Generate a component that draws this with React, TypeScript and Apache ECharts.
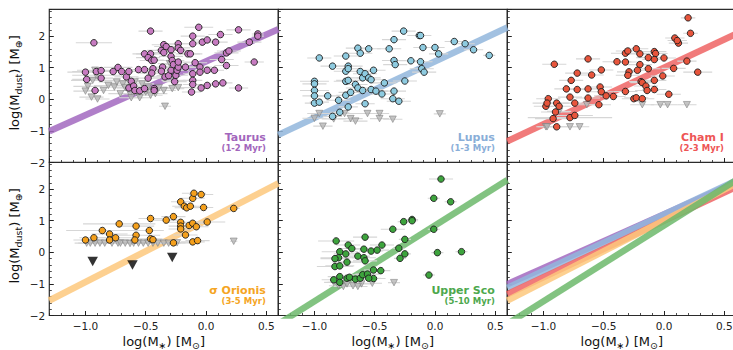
import React, { useEffect, useRef } from 'react';
import * as echarts from 'echarts';

const X_MIN = -1.3;
const X_MAX = 0.6;
const Y_MIN = -2;
const Y_MAX = 2.85;

const regionNames = ['Taurus', 'Lupus', 'Cham I', 'σ Orionis', 'Upper Sco'];
const regionAges = ['(1-2 Myr)', '(1-3 Myr)', '(2-3 Myr)', '(3-5 Myr)', '(5-10 Myr)'];
const fitSlopes = [1.7, 1.79, 1.79, 1.95, 2.4];
const fitIntercepts = [1.2, 1.2, 1.0, 1.01, 0.85];

// [log M*, log Mdust, x error]
const taurusDetections = [
  [-0.93, 1.79, 0.15], [-0.46, 2.16, 0.1], [-1.0, 0.86, 0.15], [-0.99, 0.63, 0.12], [-0.91, 0.88, 0.2],
  [-0.87, 0.91, 0.12], [-0.87, 0.67, 0.1], [-0.92, 0.28, 0.1], [-0.77, 0.88, 0.1], [-0.73, 1.01, 0.12],
  [-0.7, 0.88, 0.1], [-0.66, 0.71, 0.1], [-0.64, 0.88, 0.12], [-0.62, 0.57, 0.1], [-0.64, 0.36, 0.1],
  [-0.6, 0.42, 0.08], [-0.59, 0.28, 0.1], [-0.55, 0.27, 0.1], [-0.56, 0.94, 0.1], [-0.51, 0.94, 0.12],
  [-0.51, 0.34, 0.1], [-0.51, 1.44, 0.1], [-0.46, 1.44, 0.12], [-0.48, 1.32, 0.1], [-0.45, 1.23, 0.1],
  [-0.43, 1.24, 0.08], [-0.44, 0.97, 0.12], [-0.45, 0.83, 0.1], [-0.48, 0.67, 0.1], [-0.43, 0.34, 0.1],
  [-0.43, 0.28, 0.08], [-0.37, 1.55, 0.12], [-0.35, 1.73, 0.1], [-0.33, 1.67, 0.1], [-0.35, 1.48, 0.1],
  [-0.36, 1.02, 0.1], [-0.37, 0.89, 0.12], [-0.34, 0.71, 0.1], [-0.31, 0.75, 0.1], [-0.29, 0.92, 0.1],
  [-0.29, 1.57, 0.12], [-0.29, 1.36, 0.1], [-0.28, 1.23, 0.1], [-0.27, 1.1, 0.1], [-0.26, 0.56, 0.1],
  [-0.25, 0.76, 0.1], [-0.24, 0.92, 0.1], [-0.23, 1.02, 0.1], [-0.23, 1.76, 0.1], [-0.23, 1.63, 0.1],
  [-0.21, 1.55, 0.1], [-0.23, 1.18, 0.1], [-0.17, 1.02, 0.1], [-0.15, 1.44, 0.1], [-0.13, 1.44, 0.1],
  [-0.11, 1.76, 0.1], [-0.11, 2.0, 0.1], [-0.11, 0.81, 0.08], [-0.11, 0.6, 0.08], [-0.11, 0.47, 0.08],
  [-0.12, 0.23, 0.08], [-0.09, 1.16, 0.1], [-0.06, 2.28, 0.12], [-0.05, 1.02, 0.1], [-0.05, 0.86, 0.1],
  [-0.03, 1.81, 0.1], [0.01, 1.88, 0.1], [0.01, 0.92, 0.1], [-0.04, 0.36, 0.08], [0.01, 0.44, 0.08],
  [0.07, 0.92, 0.08], [0.08, 1.81, 0.1], [0.08, 0.49, 0.08], [0.14, 0.52, 0.08], [0.12, 2.05, 0.1],
  [0.13, 1.26, 0.1], [0.17, 1.07, 0.1], [0.17, 1.47, 0.1], [0.19, 1.53, 0.1], [0.27, 2.2, 0.1],
  [0.27, 0.36, 0.08], [0.36, 1.81, 0.1], [0.4, 1.18, 0.08], [0.43, 2.07, 0.05], [0.43, 2.0, 0.05],
];
const taurusLimits = [
  [-0.92, 0.92, 0.15], [-0.91, 0.76, 0.2], [-0.94, 0.6, 0.18], [-0.98, 0.41, 0.12], [-1.0, 0.26, 0.1],
  [-0.95, 0.07, 0.1], [-0.9, 0.01, 0.1], [-0.85, 0.28, 0.1], [-0.81, 0.44, 0.12], [-0.76, 0.39, 0.1],
  [-0.74, 0.55, 0.15], [-0.71, 0.18, 0.1], [-0.69, 0.49, 0.1], [-0.67, 0.37, 0.1], [-0.63, 0.18, 0.1],
  [-0.62, 0.05, 0.1], [-0.59, 0.55, 0.12], [-0.56, 0.18, 0.1], [-0.55, 0.05, 0.1], [-0.53, 0.49, 0.1],
  [-0.5, 0.23, 0.1], [-0.48, 0.39, 0.1], [-0.46, 0.13, 0.1], [-0.42, 0.18, 0.1], [-0.39, 0.37, 0.1],
  [-0.35, 0.28, 0.1], [-0.34, -0.22, 0.05], [-0.3, 1.13, 0.1], [-0.28, 0.34, 0.1], [-0.27, 0.6, 0.1],
  [-0.23, 0.37, 0.1],
];

const lupusDetections = [
  [-0.96, 1.31, 0.1], [-1.0, 0.57, 0.12], [-1.0, 0.49, 0.1], [-1.0, 0.28, 0.12], [-1.0, 0.11, 0.1],
  [-1.0, -0.12, 0.08], [-0.96, -0.09, 0.08], [-0.89, 0.11, 0.1], [-0.85, 1.05, 0.1], [-0.8, -0.03, 0.1],
  [-0.85, -0.54, 0.08], [-0.79, -0.41, 0.08], [-0.74, 1.37, 0.1], [-0.74, 0.89, 0.1], [-0.72, 1.05, 0.12],
  [-0.72, 0.97, 0.1], [-0.74, 0.57, 0.1], [-0.72, 0.6, 0.1], [-0.74, 0.13, 0.08], [-0.72, -0.24, 0.08],
  [-0.7, 0.22, 0.1], [-0.66, 0.47, 0.1], [-0.64, 1.62, 0.1], [-0.62, 1.46, 0.1], [-0.62, 0.88, 0.1],
  [-0.64, 0.36, 0.1], [-0.6, 0.68, 0.1], [-0.58, 0.81, 0.1], [-0.6, 0.28, 0.1], [-0.58, -0.14, 0.08],
  [-0.55, 1.6, 0.1], [-0.55, 0.68, 0.1], [-0.53, 0.62, 0.1], [-0.51, 0.92, 0.1], [-0.53, 0.31, 0.1],
  [-0.49, 0.26, 0.1], [-0.44, 0.17, 0.1], [-0.42, 0.52, 0.1], [-0.38, 1.6, 0.1], [-0.34, 1.89, 0.1],
  [-0.34, 1.23, 0.1], [-0.33, 1.1, 0.1], [-0.34, 0.26, 0.1], [-0.35, 0.02, 0.1], [-0.3, -0.06, 0.1],
  [-0.26, 2.16, 0.1], [-0.25, 0.58, 0.1], [-0.2, 1.22, 0.1], [-0.13, 2.02, 0.1], [-0.12, 2.02, 0.08],
  [-0.12, 1.19, 0.1], [-0.11, 0.97, 0.1], [-0.09, 0.86, 0.1], [-0.1, 1.64, 0.08], [0.0, 1.64, 0.08],
  [0.03, 1.44, 0.08], [0.16, 1.83, 0.08], [0.25, 1.76, 0.08], [0.32, 1.57, 0.08], [0.45, 1.39, 0.05],
];
const lupusLimits = [
  [-1.0, -0.6, 0.1], [-0.96, -0.45, 0.1], [-0.93, -0.85, 0.08], [-0.84, -0.62, 0.1], [-0.75, -0.45, 0.1],
  [-0.7, -0.61, 0.1], [-0.66, -0.69, 0.1], [-0.56, -0.45, 0.1], [-0.46, -0.45, 0.08], [-0.46, -0.61, 0.08],
  [-0.35, -0.63, 0.08], [0.04, -0.46, 0.05],
];

const chamDetections = [
  [-0.91, 1.11, 0.1], [-0.96, 0.02, 0.1], [-0.98, -0.22, 0.1], [-0.97, -0.12, 0.12], [-0.89, -0.12, 0.1],
  [-0.87, -0.22, 0.1], [-0.9, -0.4, 0.12], [-0.92, -0.61, 0.15], [-0.89, -0.87, 0.1], [-0.78, -0.58, 0.35],
  [-0.74, -0.51, 0.15], [-0.78, 0.07, 0.1], [-0.81, 0.33, 0.1], [-0.77, 0.6, 0.1], [-0.74, -0.12, 0.1],
  [-0.72, 0.83, 0.1], [-0.72, 0.31, 0.1], [-0.63, 1.28, 0.1], [-0.63, 0.33, 0.1], [-0.63, 0.04, 0.1],
  [-0.6, 0.77, 0.1], [-0.54, -0.17, 0.1], [-0.53, 0.39, 0.1], [-0.52, 0.93, 0.1], [-0.52, 0.24, 0.1],
  [-0.48, 0.11, 0.1], [-0.42, 0.09, 0.1], [-0.39, 1.19, 0.12], [-0.32, 1.18, 0.12], [-0.32, 1.46, 0.12],
  [-0.3, 1.53, 0.1], [-0.32, 0.25, 0.1], [-0.29, 0.87, 0.1], [-0.3, 0.76, 0.1], [-0.25, 0.02, 0.1],
  [-0.23, 0.05, 0.1], [-0.2, 1.44, 0.1], [-0.23, 1.6, 0.1], [-0.2, 1.1, 0.1], [-0.22, 0.92, 0.1],
  [-0.19, 0.56, 0.1], [-0.18, 0.53, 0.1], [-0.18, 0.02, 0.1], [-0.15, 0.42, 0.1], [-0.14, 0.28, 0.1],
  [-0.13, 0.97, 0.1], [-0.13, 1.32, 0.1], [-0.08, 0.31, 0.1], [-0.08, 0.6, 0.1], [-0.08, 1.51, 0.1],
  [-0.07, 1.45, 0.1], [-0.08, 1.26, 0.1], [-0.01, 0.74, 0.1], [0.0, 1.31, 0.1], [0.04, 0.16, 0.1],
  [0.08, 0.98, 0.1], [0.09, 1.94, 0.08], [0.12, 1.78, 0.08], [0.11, 1.86, 0.08], [0.19, 1.21, 0.08],
  [0.2, 2.58, 0.06], [0.22, 2.09, 0.06], [0.28, 0.86, 0.12],
];
const chamLimits = [
  [-0.87, -0.38, 0.1], [-0.98, -0.87, 0.08], [-0.97, -0.87, 0.08], [-0.78, -0.87, 0.08], [-0.7, -0.87, 0.08],
  [-0.64, -0.17, 0.1], [-0.18, -0.17, 0.1], [-0.03, -0.17, 0.08], [0.03, -0.17, 0.08], [0.19, -0.17, 0.08],
];

const sigmaOriDetections = [
  [-1.0, 0.39, 0.1], [-0.93, 0.46, 0.12], [-0.86, 0.69, 0.3], [-0.8, 0.58, 0.15], [-0.8, 0.39, 0.15],
  [-0.75, 0.46, 0.15], [-0.72, 0.9, 0.3], [-0.58, 0.83, 0.15], [-0.58, 0.54, 0.2], [-0.59, 0.39, 0.15],
  [-0.47, 0.69, 0.12], [-0.46, 1.07, 0.1], [-0.46, 0.43, 0.1], [-0.44, 0.4, 0.1], [-0.33, 1.02, 0.1],
  [-0.27, 1.13, 0.1], [-0.27, 0.3, 0.1], [-0.21, 1.6, 0.08], [-0.21, 0.95, 0.1], [-0.21, 0.83, 0.1],
  [-0.21, 0.74, 0.1], [-0.17, 0.55, 0.1], [-0.18, 1.46, 0.1], [-0.16, 1.41, 0.1], [-0.13, 1.46, 0.1],
  [-0.14, 0.85, 0.1], [-0.11, 0.92, 0.1], [-0.11, 1.71, 0.1], [-0.1, 1.87, 0.1], [-0.11, 0.33, 0.1],
  [-0.07, 0.37, 0.1], [-0.08, 0.81, 0.1], [-0.04, 1.83, 0.1], [-0.02, 1.42, 0.08], [0.01, 0.96, 0.15],
  [0.23, 1.39, 0.05],
];
const sigmaOriLimits = [
  [-0.99, 0.29, 0.1], [-0.96, 0.29, 0.1], [-0.92, 0.29, 0.1], [-0.88, 0.29, 0.1], [-0.84, 0.29, 0.1],
  [-0.78, 0.29, 0.1], [-0.73, 0.29, 0.1], [-0.71, 0.29, 0.1], [-0.67, 0.29, 0.1], [-0.63, 0.28, 0.1],
  [-0.6, 0.29, 0.1], [-0.56, 0.29, 0.1], [-0.52, 0.29, 0.1], [-0.48, 0.29, 0.1], [-0.44, 0.29, 0.1],
  [-0.4, 0.29, 0.1], [-0.35, 0.29, 0.1], [-0.31, 0.29, 0.1], [-0.24, 0.3, 0.1], [0.23, 0.35, 0.03],
];
const sigmaOriDeepLimits = [
  [-0.94, -0.29], [-0.61, -0.4], [-0.28, -0.16],
];

const upperScoDetections = [
  [0.05, 2.32, 0.1], [-0.01, 1.71, 0.05], [0.13, 1.6, 0.05], [-0.26, 0.97, 0.05], [-0.19, 1.04, 0.05],
  [-0.19, 1.0, 0.05], [-0.35, 0.73, 0.1], [-0.25, 0.41, 0.05], [-0.01, 0.73, 0.05], [0.02, -0.01, 0.05],
  [0.22, 0.02, 0.05], [-0.05, -0.72, 0.05], [-0.82, 0.36, 0.15], [-0.58, 0.48, 0.1], [-0.72, 0.23, 0.1],
  [-0.69, 0.12, 0.1], [-0.79, 0.02, 0.15], [-0.8, -0.17, 0.15], [-0.83, -0.2, 0.12], [-0.83, -0.45, 0.15],
  [-0.79, -0.43, 0.12], [-0.73, -0.31, 0.12], [-0.74, -0.05, 0.1], [-0.64, -0.12, 0.1], [-0.59, 0.1, 0.1],
  [-0.59, -0.17, 0.1], [-0.58, -0.27, 0.1], [-0.53, 0.04, 0.1], [-0.48, 0.07, 0.1], [-0.44, 0.23, 0.1],
  [-0.3, 0.13, 0.05], [-0.29, -0.19, 0.05], [-0.25, -0.05, 0.05], [-0.51, -0.56, 0.08], [-0.45, -0.58, 0.08],
  [-0.84, -0.87, 0.1], [-0.79, -0.77, 0.1], [-0.79, -0.95, 0.1], [-0.73, -0.82, 0.1], [-0.71, -0.79, 0.1],
  [-0.66, -0.85, 0.1], [-0.62, -0.82, 0.1], [-0.6, -0.71, 0.1], [-0.56, -0.69, 0.1], [-0.51, -0.83, 0.1],
  [-0.55, -0.82, 0.1],
];
const upperScoLimits = [
  [-0.8, -1.06, 0.08], [-0.76, -1.08, 0.08], [-0.68, -1.06, 0.08], [-0.61, -1.0, 0.08], [-0.52, -0.98, 0.08],
  [-0.34, -0.96, 0.05], [-0.84, -0.95, 0.08], [-0.73, -1.0, 0.08], [-0.64, -1.08, 0.08],
];

const allDetections = [taurusDetections, lupusDetections, chamDetections, sigmaOriDetections, upperScoDetections];
const allLimits = [taurusLimits, lupusLimits, chamLimits, sigmaOriLimits, upperScoLimits];

// styles
const lineColors = ['#a269c0', '#92b6dc', '#ee6464', '#fdc87c', '#6cb86b'];
const pointColors = ['#c77bc1', '#8ecbe0', '#e8553c', '#f5a01c', '#3da43d'];
const labelColors = ['#a266bc', '#8aaed8', '#ee5555', '#f5a523', '#4da84d'];

const COL_LEFT = [49.3, 278.3, 507.3];
const ROW_TOP = [9.3, 162.3];
const PW = 229;
const PH = 153.2;
const FONT = '"DejaVu Sans", "Liberation Sans", sans-serif';

const fmtX = (v: number) => {
  const r = Math.round(v * 2) / 2;
  if (Math.abs(v - r) > 1e-6) return '';
  const s = Math.abs(r).toFixed(1);
  return r < 0 ? '\u2212' + s : s;
};
const fmtY = (v: number) => {
  const r = Math.round(v);
  if (Math.abs(v - r) > 1e-6) return '';
  return r < 0 ? '\u2212' + Math.abs(r) : String(r);
};

function buildOption() {
  const grid: any[] = [];
  const xAxis: any[] = [];
  const yAxis: any[] = [];
  const series: any[] = [];
  const graphic: any[] = [];

  const hiddenLine = { show: false, onZero: false };

  for (let p = 0; p < 6; p++) {
    const row = Math.floor(p / 3);
    const col = p % 3;
    grid.push({
      left: COL_LEFT[col], top: ROW_TOP[row], width: PW, height: PH,
      show: true, borderColor: '#2b2b2b', borderWidth: 1.2, backgroundColor: 'transparent',
      containLabel: false, outerBoundsMode: 'none',
    });
    xAxis.push({
      type: 'value', gridIndex: p, min: X_MIN, max: X_MAX, minInterval: 0.5, maxInterval: 0.5, splitNumber: 4,
      position: 'bottom', axisLine: hiddenLine, splitLine: { show: false },
      axisTick: { show: true, inside: true, length: 4.5, lineStyle: { color: '#222', width: 1 } },
      axisLabel: {
        show: row === 1, showMinLabel: false, showMaxLabel: false, margin: 5, fontSize: 10.5,
        color: '#222', fontFamily: FONT, formatter: fmtX,
      },
    });
    xAxis.push({
      type: 'value', gridIndex: p, min: X_MIN, max: X_MAX, interval: 0.1,
      position: 'bottom', axisLine: hiddenLine, splitLine: { show: false },
      axisTick: { show: true, inside: true, length: 2.5, lineStyle: { color: '#222', width: 0.8 } },
      axisLabel: { show: false },
    });
    yAxis.push({
      type: 'value', gridIndex: p, min: Y_MIN, max: Y_MAX, interval: 1,
      position: 'left', axisLine: hiddenLine, splitLine: { show: false },
      axisTick: { show: true, inside: true, length: 4.5, lineStyle: { color: '#222', width: 1 } },
      axisLabel: {
        show: col === 0, showMaxLabel: false, margin: 4, fontSize: 10.5,
        color: '#222', fontFamily: FONT, formatter: fmtY,
      },
    });
    yAxis.push({
      type: 'value', gridIndex: p, min: Y_MIN, max: Y_MAX, interval: 0.2,
      position: 'left', axisLine: hiddenLine, splitLine: { show: false },
      axisTick: { show: true, inside: true, length: 2.5, lineStyle: { color: '#222', width: 0.8 } },
      axisLabel: { show: false },
    });

    const ax = { xAxisIndex: 2 * p, yAxisIndex: 2 * p };
    const fitIdx = p < 5 ? [p] : [0, 1, 2, 3, 4];
    fitIdx.forEach((r) => {
      series.push({
        type: 'line', ...ax, z: 1, symbol: 'none', silent: true, clip: true,
        data: [
          [X_MIN, fitIntercepts[r] + fitSlopes[r] * X_MIN],
          [X_MAX, fitIntercepts[r] + fitSlopes[r] * X_MAX],
        ],
        lineStyle: { color: lineColors[r], width: 6.5, opacity: 0.85, cap: 'butt' },
      });
    });

    if (p < 5) {
      const pts = allLimits[p].concat(allDetections[p]);
      series.push({
        type: 'custom', ...ax, z: 2, silent: true, clip: true,
        dimensions: ['x', 'y', 'e'], encode: { x: 0, y: 1 },
        data: pts,
        renderItem: (params: any, api: any) => {
          const x = api.value(0);
          const y = api.value(1);
          const e = api.value(2);
          const a = api.coord([x - e, y]);
          const b = api.coord([x + e, y]);
          return {
            type: 'line',
            shape: { x1: a[0], y1: a[1], x2: b[0], y2: b[1] },
            style: { stroke: '#d6d6d6', lineWidth: 1.1 },
          };
        },
      });
      series.push({
        type: 'scatter', ...ax, z: 3, silent: true,
        symbol: 'triangle', symbolRotate: 180, symbolSize: [7, 6.5],
        data: allLimits[p].map((d) => [d[0], d[1]]),
        itemStyle: { color: '#b5b5b5', borderColor: '#7d7d7d', borderWidth: 0.7 },
      });
      if (p === 3) {
        series.push({
          type: 'scatter', ...ax, z: 4, silent: true,
          symbol: 'triangle', symbolRotate: 180, symbolSize: [10.5, 9.5],
          data: sigmaOriDeepLimits,
          itemStyle: { color: '#000000' },
        });
      }
      series.push({
        type: 'scatter', ...ax, z: 5, silent: true,
        symbol: 'circle', symbolSize: 6.5,
        data: allDetections[p].map((d) => [d[0], d[1]]),
        itemStyle: { color: pointColors[p], borderColor: '#1c1c1c', borderWidth: 0.9, opacity: 1 },
      });

      const right = COL_LEFT[col] + PW - 12.5;
      const bottom = ROW_TOP[row] + PH;
      graphic.push({
        type: 'text', x: right, y: bottom - 25, z: 100, z2: 100, silent: true,
        style: {
          text: regionNames[p], fill: labelColors[p], font: `bold 11px ${FONT}`,
          align: 'right', verticalAlign: 'middle', textAlign: 'right', textVerticalAlign: 'middle',
        },
      });
      graphic.push({
        type: 'text', x: right, y: bottom - 14.5, z: 100, z2: 100, silent: true,
        style: {
          text: regionAges[p], fill: labelColors[p], font: `bold 8.5px ${FONT}`,
          align: 'right', verticalAlign: 'middle', textAlign: 'right', textVerticalAlign: 'middle',
        },
      });
    }
  }

  const rich = {
    n: { fontSize: 13, fontFamily: FONT, fill: '#111', color: '#111', lineHeight: 17 },
    s: { fontSize: 9.5, fontFamily: FONT, fill: '#111', color: '#111', verticalAlign: 'bottom' },
  };
  for (let row = 0; row < 2; row++) {
    graphic.push({
      type: 'text', x: 14.5, y: ROW_TOP[row] + PH / 2 - 3, rotation: Math.PI / 2, z: 100, silent: true,
      style: {
        text: '{n|log(M}{s|dust}{n|) [M}{s|⊕}{n|]}', rich, fill: '#111',
        align: 'center', verticalAlign: 'middle', textAlign: 'center', textVerticalAlign: 'middle',
      },
    });
  }
  for (let col = 0; col < 3; col++) {
    graphic.push({
      type: 'text', x: COL_LEFT[col] + PW / 2, y: 341.5, z: 100, silent: true,
      style: {
        text: '{n|log(M}{s|∗}{n|) [M}{s|⊙}{n|]}', rich, fill: '#111',
        align: 'center', verticalAlign: 'middle', textAlign: 'center', textVerticalAlign: 'middle',
      },
    });
  }

  return {
    animation: false,
    backgroundColor: '#ffffff',
    textStyle: { fontFamily: FONT },
    grid, xAxis, yAxis, series,
    graphic: { elements: graphic },
  };
}

export default function App() {
  const ref = useRef<HTMLDivElement>(null);
  useEffect(() => {
    if (!ref.current) return;
    const chart = echarts.init(ref.current, null, { renderer: 'svg' });
    chart.setOption(buildOption() as any);
    return () => chart.dispose();
  }, []);
  return (
    <div
      ref={ref}
      style={{ position: 'fixed', left: 0, top: 0, width: 733, height: 350, background: '#fff' }}
    />
  );
}
